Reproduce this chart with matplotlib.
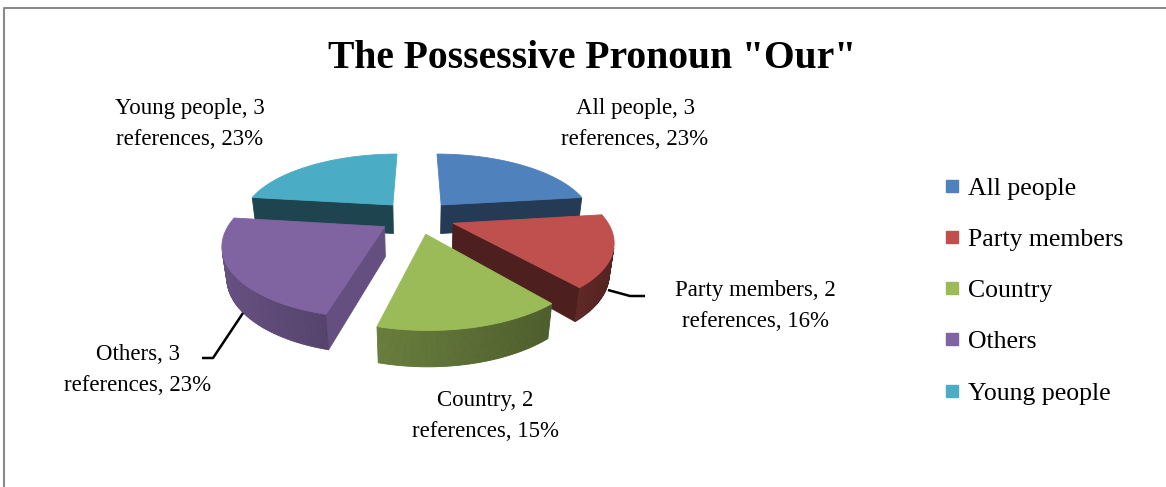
import numpy as np
import matplotlib
matplotlib.use('Agg')
import matplotlib.pyplot as plt
from matplotlib.patches import Polygon
from matplotlib.lines import Line2D
from matplotlib.colors import to_rgb

categories = ['All people', 'Party members', 'Country', 'Others', 'Young people']
references = [3, 2, 2, 3, 3]
percents = [23, 16, 15, 23, 23]
colors = ['#4F81BD', '#C0504D', '#9BBB59', '#8064A2', '#4BACC6']

SERIF = 'Liberation Serif'

# 3d pie view: pixel centre, radius in px, tilt, camera distance, slab depth, explode
CX, CY = 417, 217
SCALE = 152
TILT = np.radians(26)
DIST = 4.15
DEPTH = 0.22
EXPLODE = 0.25

cam = np.array([0.0, -DIST * np.cos(TILT), DIST * np.sin(TILT)])


def project(x, y, z):
    d = 1 + (y * np.cos(TILT) - z * np.sin(TILT)) / DIST
    up = y * np.sin(TILT) + z * np.cos(TILT)
    return CX + SCALE * x / d, CY - SCALE * up / d


def shade(c, m):
    return tuple(np.clip(np.array(to_rgb(c)) * m, 0, 1))


def visible(p, n):
    return np.dot(cam - np.asarray(p), np.asarray(n)) > 0


def face(ax, pts, col):
    xy = [project(*p) for p in pts]
    ax.add_patch(Polygon(xy, closed=True, facecolor=col, edgecolor=col, lw=0.6))


fig = plt.figure(figsize=(11.66, 4.87), dpi=100)
ax = fig.add_axes([0, 0, 1, 1])
ax.set_xlim(0, 1166)
ax.set_ylim(487, 0)
ax.axis('off')

bounds = np.concatenate([[0], np.cumsum(percents)]) * 360 / sum(percents)
slices = []
for i in range(len(categories)):
    a, b = bounds[i], bounds[i + 1]
    mid = np.radians((a + b) / 2)
    slices.append((i, a, b, np.sin(mid) * EXPLODE, np.cos(mid) * EXPLODE))

# back slices first
slices.sort(key=lambda s: -s[4])

for i, a, b, ox, oy in slices:
    col = colors[i]
    ts = np.radians(np.linspace(a, b, 90))
    xs, ys = ox + np.sin(ts), oy + np.cos(ts)
    # radial cut faces, only the ones turned toward the front
    for t, sgn in ((ts[0], -1), (ts[-1], 1)):
        nrm = (np.sin(t + sgn * np.pi / 2), np.cos(t + sgn * np.pi / 2), 0)
        ex, ey = ox + np.sin(t), oy + np.cos(t)
        if nrm[1] < -0.05:
            m = 0.4 + 0.4 * max(0, nrm[0])
            face(ax, [(ox, oy, 0), (ex, ey, 0), (ex, ey, -DEPTH), (ox, oy, -DEPTH)], shade(col, m))
    # curved outer wall
    for k in range(len(ts) - 1):
        tm = (ts[k] + ts[k + 1]) / 2
        nrm = (np.sin(tm), np.cos(tm), 0)
        if visible((ox + nrm[0], oy + nrm[1], 0), nrm):
            m = 0.62 + 0.2 * (-np.sin(tm))
            face(ax, [(xs[k], ys[k], 0), (xs[k + 1], ys[k + 1], 0),
                      (xs[k + 1], ys[k + 1], -DEPTH), (xs[k], ys[k], -DEPTH)], shade(col, m))
    # top face
    top = [(ox, oy, 0)] + [(x, y, 0) for x, y in zip(xs, ys)]
    face(ax, top, col)

# data labels
label_pos = [(635, 124), (755, 306), (485, 416), (138, 370), (190, 124)]
for i, (lx, ly) in enumerate(label_pos):
    ax.text(lx, ly, f'{categories[i]}, {references[i]}\nreferences, {percents[i]}%',
            ha='center', va='center', fontsize=16.5, family=SERIF, linespacing=1.65)

# leader lines
ax.plot([608, 630, 645], [290, 296, 296], color='black', lw=1.8, solid_capstyle='butt')
ax.plot([243, 213, 202], [313, 358, 358], color='black', lw=1.8, solid_capstyle='butt')

ax.text(592, 58, 'The Possessive Pronoun "Our"', ha='center', va='center',
        fontsize=28.5, fontweight='bold', family=SERIF)

handles = [Line2D([], [], marker='s', ls='', color=c, markersize=8) for c in colors]
ax.legend(handles, categories, loc='upper left', bbox_to_anchor=(0.786, 0.685),
          frameon=False, prop={'family': SERIF, 'size': 18.5}, labelspacing=1.1,
          handletextpad=0.1, handlelength=1.0)

# chart frame
ax.plot([4, 4, 1166], [487, 8, 8], color='#8a8a8a', lw=1.5)

fig.savefig('out.png', dpi=100)
